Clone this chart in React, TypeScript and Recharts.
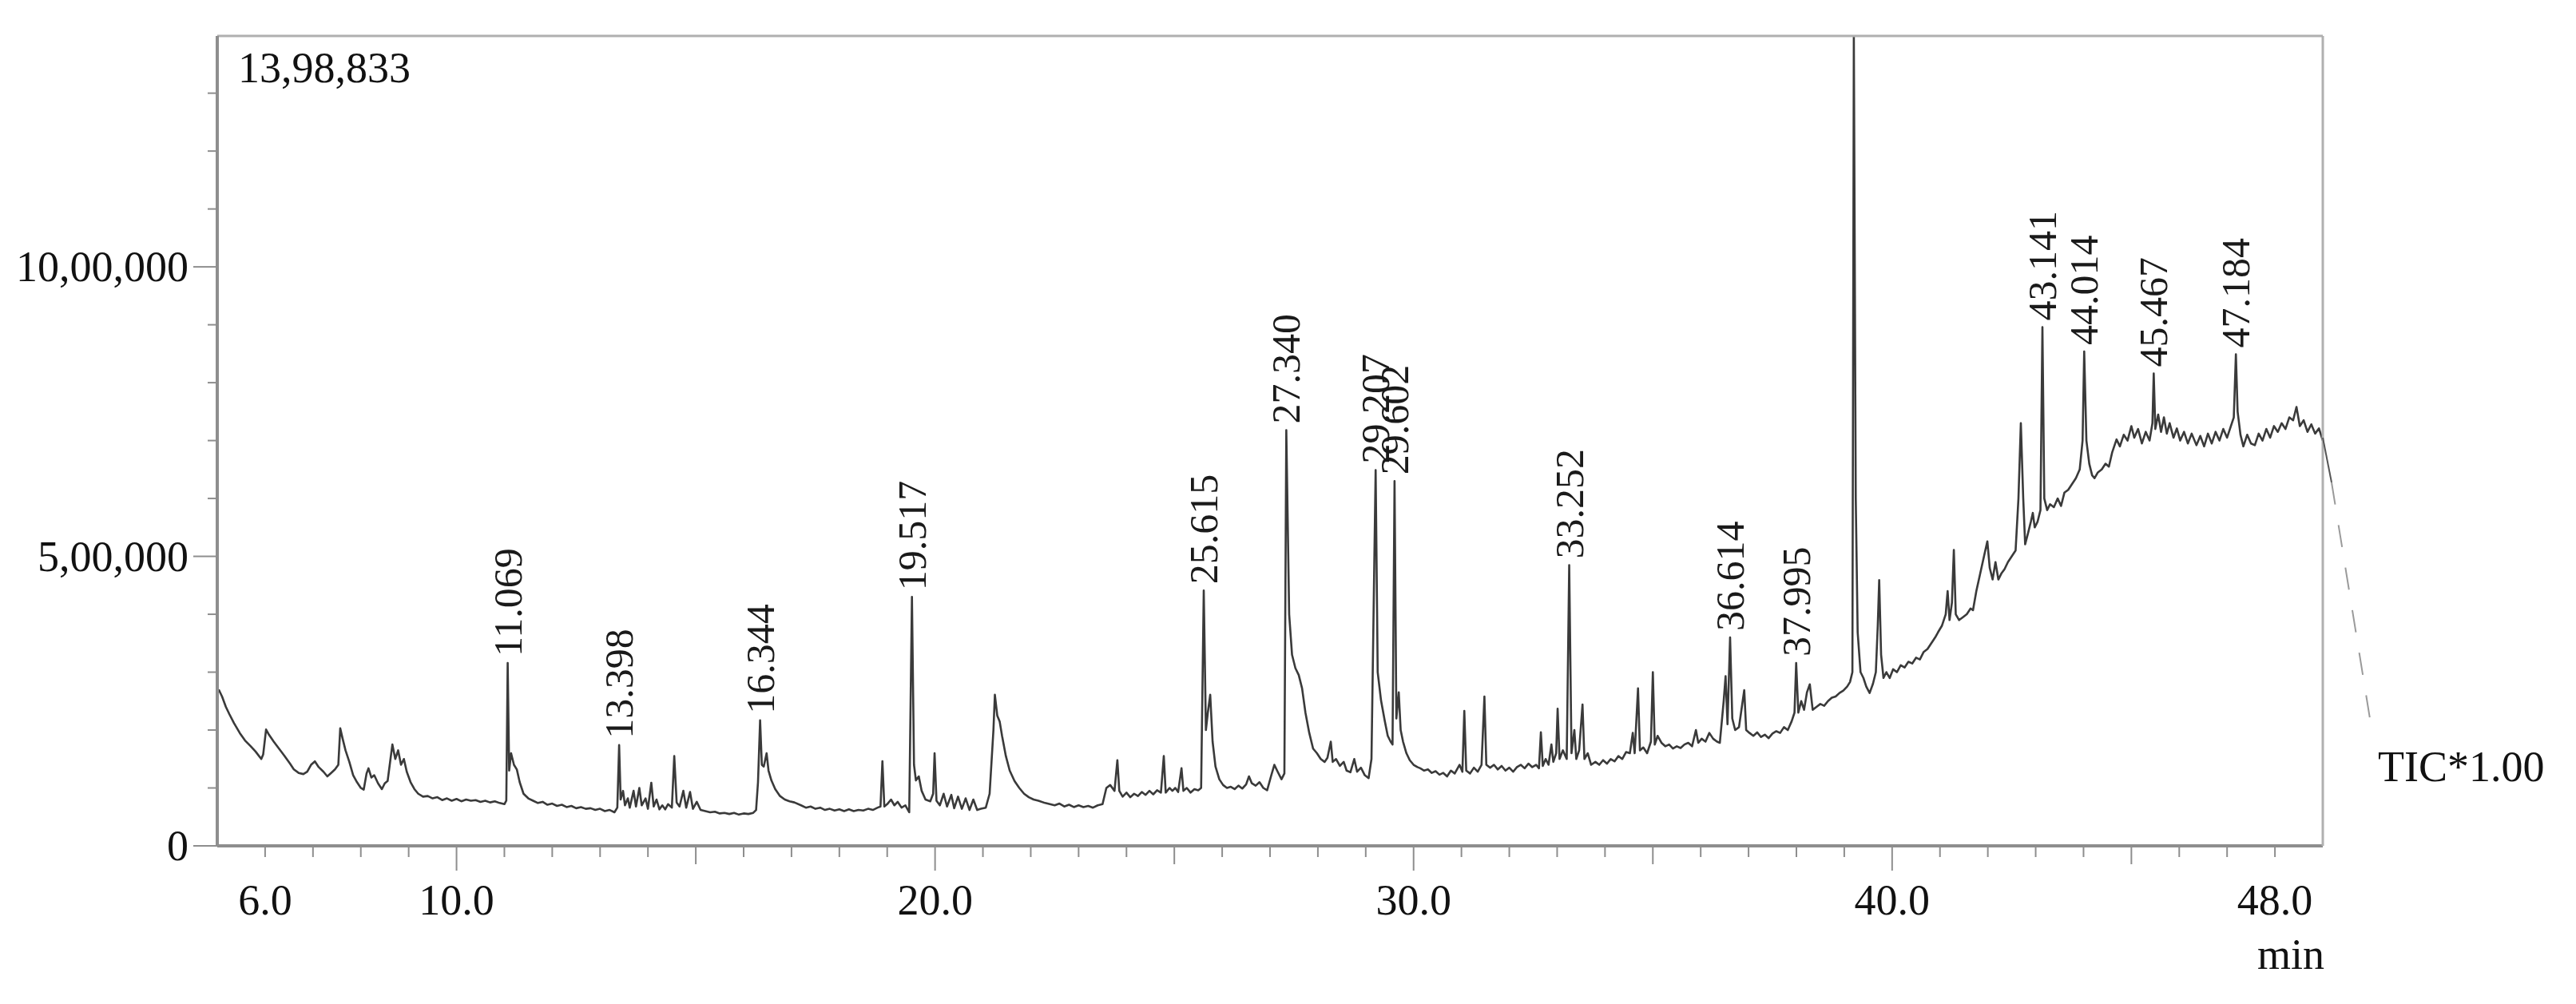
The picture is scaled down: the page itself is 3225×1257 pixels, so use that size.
import { ComposedChart, Line, Scatter, XAxis, YAxis } from 'recharts';

// retention time (min), intensity (counts)
const trace: [number, number][] = [
  [5.03, 270000], [5.10, 258000], [5.18, 240000], [5.25, 228000], [5.35, 212000], [5.47, 195000],
  [5.58, 182000], [5.70, 172000], [5.80, 163000], [5.92, 150000], [5.96, 158000], [6.02, 201000],
  [6.08, 192000], [6.18, 180000], [6.29, 168000], [6.40, 156000], [6.52, 142000], [6.60, 132000],
  [6.70, 126000], [6.80, 124000], [6.88, 128000], [6.96, 140000], [7.04, 146000], [7.12, 136000],
  [7.22, 128000], [7.30, 120000], [7.38, 126000], [7.46, 132000], [7.53, 140000], [7.57, 203000],
  [7.62, 185000], [7.68, 165000], [7.76, 145000], [7.84, 122000], [7.92, 110000], [8.00, 100000],
  [8.06, 97000], [8.12, 125000], [8.16, 134000], [8.22, 118000], [8.28, 122000], [8.36, 108000],
  [8.44, 98000], [8.50, 108000], [8.56, 112000], [8.62, 150000], [8.66, 175000], [8.72, 150000],
  [8.78, 165000], [8.84, 140000], [8.90, 150000], [8.96, 128000], [9.04, 110000], [9.12, 98000],
  [9.20, 90000], [9.30, 85000], [9.40, 86000], [9.50, 82000], [9.60, 84000], [9.70, 79000],
  [9.80, 82000], [9.90, 78000], [10.00, 81000], [10.10, 77000], [10.20, 80000], [10.30, 78000],
  [10.40, 79000], [10.50, 76000], [10.60, 78000], [10.70, 75000], [10.80, 77000], [10.90, 74000],
  [11.00, 72000], [11.04, 78000], [11.069, 316000], [11.10, 130000], [11.14, 160000], [11.20, 140000],
  [11.26, 132000], [11.32, 110000], [11.40, 90000], [11.50, 82000], [11.60, 78000], [11.70, 74000],
  [11.80, 76000], [11.90, 71000], [12.00, 73000], [12.10, 69000], [12.20, 71000], [12.30, 67000],
  [12.40, 69000], [12.50, 65000], [12.60, 67000], [12.70, 64000], [12.80, 65000], [12.90, 62000],
  [13.00, 64000], [13.10, 60000], [13.20, 62000], [13.30, 58000], [13.36, 66000], [13.398, 174000],
  [13.43, 80000], [13.48, 95000], [13.52, 70000], [13.58, 82000], [13.62, 66000], [13.70, 95000],
  [13.75, 68000], [13.82, 100000], [13.87, 70000], [13.95, 82000], [14.00, 64000], [14.07, 109000],
  [14.12, 68000], [14.18, 80000], [14.24, 63000], [14.30, 70000], [14.36, 63000], [14.42, 72000],
  [14.50, 66000], [14.55, 155000], [14.60, 75000], [14.66, 68000], [14.74, 95000], [14.80, 66000],
  [14.88, 93000], [14.94, 64000], [15.02, 76000], [15.10, 62000], [15.20, 60000], [15.30, 58000],
  [15.40, 59000], [15.50, 56000], [15.60, 57000], [15.70, 55000], [15.80, 57000], [15.90, 54000],
  [16.00, 56000], [16.10, 55000], [16.20, 57000], [16.26, 62000], [16.30, 110000], [16.344, 217000],
  [16.38, 140000], [16.42, 137000], [16.48, 160000], [16.52, 130000], [16.58, 113000], [16.66, 98000],
  [16.76, 86000], [16.86, 80000], [16.96, 77000], [17.06, 75000], [17.20, 70000], [17.30, 66000],
  [17.40, 68000], [17.50, 64000], [17.60, 66000], [17.70, 62000], [17.80, 64000], [17.90, 61000],
  [18.00, 63000], [18.10, 60000], [18.20, 63000], [18.30, 60000], [18.40, 62000], [18.50, 61000],
  [18.60, 64000], [18.70, 62000], [18.80, 66000], [18.86, 68000], [18.90, 146000], [18.94, 68000],
  [19.00, 72000], [19.08, 80000], [19.15, 70000], [19.22, 76000], [19.30, 66000], [19.38, 70000],
  [19.46, 58000], [19.517, 430000], [19.56, 140000], [19.60, 113000], [19.66, 120000], [19.72, 95000],
  [19.80, 80000], [19.90, 77000], [19.96, 90000], [19.99, 160000], [20.03, 78000], [20.10, 70000],
  [20.18, 90000], [20.25, 68000], [20.34, 88000], [20.40, 65000], [20.48, 85000], [20.56, 64000],
  [20.64, 82000], [20.72, 62000], [20.80, 80000], [20.88, 62000], [20.96, 64000], [21.06, 66000],
  [21.14, 90000], [21.22, 200000], [21.25, 261000], [21.30, 225000], [21.35, 215000], [21.40, 190000],
  [21.48, 155000], [21.56, 130000], [21.66, 112000], [21.76, 100000], [21.86, 90000], [21.96, 84000],
  [22.06, 80000], [22.16, 78000], [22.30, 74000], [22.40, 72000], [22.50, 70000], [22.60, 73000],
  [22.70, 68000], [22.80, 71000], [22.90, 67000], [23.00, 70000], [23.10, 67000], [23.20, 69000],
  [23.30, 66000], [23.40, 70000], [23.50, 72000], [23.58, 100000], [23.66, 105000], [23.75, 95000],
  [23.81, 148000], [23.85, 95000], [23.92, 85000], [24.00, 92000], [24.08, 84000], [24.16, 90000],
  [24.24, 86000], [24.32, 93000], [24.40, 88000], [24.48, 95000], [24.56, 89000], [24.64, 96000],
  [24.72, 92000], [24.78, 155000], [24.82, 92000], [24.90, 100000], [24.96, 95000], [25.02, 100000],
  [25.08, 93000], [25.15, 134000], [25.19, 95000], [25.26, 100000], [25.34, 92000], [25.42, 98000],
  [25.50, 96000], [25.56, 100000], [25.615, 441000], [25.66, 200000], [25.70, 230000], [25.75, 261000],
  [25.80, 180000], [25.86, 137000], [25.94, 115000], [26.02, 105000], [26.10, 100000], [26.18, 102000],
  [26.26, 98000], [26.34, 104000], [26.42, 99000], [26.50, 106000], [26.56, 120000], [26.62, 108000],
  [26.70, 104000], [26.78, 110000], [26.86, 100000], [26.94, 96000], [27.02, 120000], [27.09, 140000],
  [27.16, 128000], [27.24, 115000], [27.30, 125000], [27.340, 718000], [27.40, 400000], [27.46, 330000],
  [27.53, 307000], [27.60, 295000], [27.67, 272000], [27.74, 230000], [27.82, 195000], [27.90, 168000],
  [27.98, 160000], [28.06, 150000], [28.14, 145000], [28.20, 152000], [28.27, 180000], [28.31, 145000],
  [28.38, 150000], [28.46, 138000], [28.54, 145000], [28.60, 130000], [28.68, 127000], [28.76, 150000],
  [28.82, 128000], [28.90, 135000], [28.98, 122000], [29.06, 117000], [29.12, 150000], [29.207, 649000],
  [29.25, 300000], [29.32, 251000], [29.40, 215000], [29.46, 190000], [29.52, 180000], [29.56, 175000],
  [29.602, 630000], [29.64, 220000], [29.69, 265000], [29.73, 200000], [29.78, 180000], [29.85, 160000],
  [29.92, 148000], [30.00, 140000], [30.08, 136000], [30.14, 134000], [30.22, 130000], [30.30, 132000],
  [30.38, 126000], [30.46, 129000], [30.54, 123000], [30.62, 126000], [30.70, 120000], [30.78, 130000],
  [30.86, 125000], [30.96, 140000], [31.02, 128000], [31.06, 233000], [31.10, 130000], [31.18, 125000],
  [31.26, 135000], [31.34, 128000], [31.42, 140000], [31.48, 258000], [31.52, 140000], [31.60, 135000],
  [31.68, 140000], [31.76, 132000], [31.84, 138000], [31.92, 130000], [32.00, 135000], [32.08, 128000],
  [32.16, 136000], [32.24, 140000], [32.32, 134000], [32.40, 142000], [32.48, 136000], [32.56, 140000],
  [32.62, 134000], [32.66, 196000], [32.70, 138000], [32.76, 150000], [32.82, 140000], [32.88, 175000],
  [32.92, 145000], [32.98, 160000], [33.01, 237000], [33.05, 150000], [33.12, 165000], [33.20, 150000],
  [33.252, 485000], [33.30, 160000], [33.36, 200000], [33.40, 150000], [33.46, 165000], [33.53, 244000],
  [33.57, 150000], [33.64, 160000], [33.71, 140000], [33.80, 145000], [33.88, 140000], [33.96, 148000],
  [34.04, 142000], [34.12, 150000], [34.20, 146000], [34.28, 155000], [34.36, 150000], [34.44, 162000],
  [34.52, 160000], [34.58, 195000], [34.62, 160000], [34.69, 272000], [34.73, 165000], [34.80, 170000],
  [34.88, 160000], [34.96, 180000], [35.00, 300000], [35.04, 175000], [35.10, 190000], [35.18, 178000],
  [35.26, 172000], [35.34, 175000], [35.42, 168000], [35.50, 172000], [35.58, 169000], [35.66, 175000],
  [35.74, 178000], [35.82, 172000], [35.90, 200000], [35.95, 178000], [36.02, 185000], [36.10, 180000],
  [36.18, 195000], [36.26, 185000], [36.34, 180000], [36.40, 178000], [36.48, 250000], [36.52, 293000],
  [36.56, 210000], [36.614, 360000], [36.66, 220000], [36.72, 200000], [36.80, 205000], [36.86, 240000],
  [36.91, 269000], [36.95, 200000], [37.02, 195000], [37.10, 190000], [37.18, 196000], [37.26, 188000],
  [37.34, 192000], [37.42, 186000], [37.50, 194000], [37.58, 198000], [37.66, 195000], [37.74, 205000],
  [37.82, 200000], [37.90, 215000], [37.96, 230000], [37.995, 316000], [38.04, 230000], [38.10, 250000],
  [38.16, 235000], [38.22, 265000], [38.28, 279000], [38.34, 235000], [38.42, 240000], [38.50, 245000],
  [38.58, 242000], [38.66, 250000], [38.74, 256000], [38.82, 258000], [38.90, 264000], [38.98, 268000],
  [39.06, 275000], [39.12, 283000], [39.17, 300000], [39.20, 1398833], [39.24, 600000], [39.28, 369000],
  [39.34, 300000], [39.40, 290000], [39.46, 275000], [39.53, 264000], [39.60, 280000], [39.66, 300000],
  [39.70, 380000], [39.73, 459000], [39.77, 330000], [39.82, 290000], [39.88, 300000], [39.95, 290000],
  [40.02, 305000], [40.10, 300000], [40.18, 312000], [40.26, 308000], [40.34, 318000], [40.42, 315000],
  [40.50, 325000], [40.58, 322000], [40.66, 335000], [40.74, 340000], [40.82, 350000], [40.90, 360000],
  [40.96, 369000], [41.04, 380000], [41.12, 400000], [41.16, 440000], [41.20, 390000], [41.25, 420000],
  [41.29, 511000], [41.33, 400000], [41.40, 390000], [41.48, 395000], [41.56, 400000], [41.64, 410000],
  [41.69, 407000], [41.76, 440000], [41.84, 470000], [41.92, 500000], [41.99, 526000], [42.04, 480000],
  [42.10, 460000], [42.16, 490000], [42.22, 460000], [42.28, 470000], [42.35, 478000], [42.42, 490000],
  [42.50, 500000], [42.58, 510000], [42.64, 600000], [42.69, 730000], [42.74, 600000], [42.78, 521000],
  [42.84, 540000], [42.90, 560000], [42.94, 575000], [42.98, 550000], [43.04, 560000], [43.10, 580000],
  [43.141, 896000], [43.18, 600000], [43.24, 580000], [43.30, 590000], [43.38, 585000], [43.46, 600000],
  [43.53, 587000], [43.60, 610000], [43.68, 615000], [43.76, 625000], [43.84, 635000], [43.92, 650000],
  [43.98, 700000], [44.014, 854000], [44.06, 700000], [44.12, 660000], [44.18, 640000], [44.23, 635000],
  [44.30, 645000], [44.38, 650000], [44.46, 660000], [44.53, 655000], [44.60, 680000], [44.69, 702000],
  [44.76, 690000], [44.84, 710000], [44.92, 700000], [45.00, 725000], [45.06, 705000], [45.14, 720000],
  [45.22, 695000], [45.30, 715000], [45.38, 700000], [45.44, 730000], [45.467, 816000], [45.50, 720000],
  [45.56, 745000], [45.62, 715000], [45.68, 740000], [45.74, 712000], [45.80, 730000], [45.88, 705000],
  [45.95, 721000], [46.02, 700000], [46.10, 715000], [46.18, 695000], [46.26, 712000], [46.36, 692000],
  [46.44, 708000], [46.52, 690000], [46.60, 712000], [46.68, 695000], [46.76, 715000], [46.84, 700000],
  [46.92, 720000], [47.00, 705000], [47.08, 725000], [47.14, 740000], [47.184, 849000], [47.22, 750000],
  [47.28, 710000], [47.34, 690000], [47.42, 710000], [47.50, 695000], [47.58, 692000], [47.66, 712000],
  [47.74, 700000], [47.82, 720000], [47.90, 705000], [47.98, 725000], [48.06, 715000], [48.14, 730000],
  [48.22, 720000], [48.30, 740000], [48.38, 735000], [48.45, 758000], [48.52, 725000], [48.60, 735000],
  [48.68, 715000], [48.76, 728000], [48.84, 712000], [48.92, 721000], [49.00, 700000],
];

// labelled peaks (retention times printed above the apex)
const peakLabels = [
  '11.069', '13.398', '16.344', '19.517', '25.615', '27.340', '29.207', '29.602',
  '33.252', '36.614', '37.995', '43.141', '44.014', '45.467', '47.184',
];

const xTicks = [
  6, 7, 8, 9, 10, 11, 12, 13, 14, 15, 16, 17, 18, 19, 20, 21, 22, 23, 24, 25, 26, 27,
  28, 29, 30, 31, 32, 33, 34, 35, 36, 37, 38, 39, 40, 41, 42, 43, 44, 45, 46, 47, 48,
];
const xTickLabels: Record<number, string> = { 6: '6.0', 10: '10.0', 20: '20.0', 30: '30.0', 40: '40.0', 48: '48.0' };

const yTicks = [0, 100000, 200000, 300000, 400000, 500000, 600000, 700000, 800000, 900000, 1000000, 1100000, 1200000, 1300000];
const yTickLabels: Record<number, string> = { 0: '0', 500000: '5,00,000', 1000000: '10,00,000' };

const yMax = 1398833;

const FONT = '"Liberation Serif", "DejaVu Serif", serif';
const AXIS = '#8e8e8e';

const chartData = trace.map(([t, v]) => ({ t, v }));
const peakData = peakLabels.map((label) => {
  const t = parseFloat(label);
  const hit = trace.find(([tt]) => tt === t);
  return { t, v: hit ? hit[1] : 0, label };
});

function XTick(props: any) {
  const { x, y, payload } = props;
  const val = payload.value as number;
  const len = val % 10 === 0 ? 31 : val % 5 === 0 ? 23 : 14;
  const label = xTickLabels[val];
  return (
    <g>
      <line x1={x} x2={x} y1={y} y2={y + len} stroke={AXIS} strokeWidth={2} />
      {label && (
        <text x={x} y={y + 86} textAnchor="middle" fontSize={54} fontFamily={FONT} fill="#111">
          {label}
        </text>
      )}
    </g>
  );
}

function YTick(props: any) {
  const { x, y, payload } = props;
  const label = yTickLabels[payload.value as number];
  const len = label ? 30 : 12;
  return (
    <g>
      <line x1={x - len} x2={x} y1={y} y2={y} stroke={AXIS} strokeWidth={2} />
      {label && (
        <text x={x - 36} y={y} dy="0.34em" textAnchor="end" fontSize={54} fontFamily={FONT} fill="#111">
          {label}
        </text>
      )}
    </g>
  );
}

function PeakLabel(props: any) {
  const { cx, cy } = props;
  const label = props.payload?.label ?? props.label;
  if (cx == null || cy == null) return null;
  return (
    <text
      transform={`translate(${cx},${cy - 8}) rotate(-90)`}
      dy="0.34em"
      fontSize={50}
      fontFamily={FONT}
      fill="#1a1a1a"
    >
      {label}
    </text>
  );
}

export default function App() {
  return (
    <div style={{ position: 'absolute', left: 0, top: 0, width: 3225, height: 1257, background: '#fff' }}>
      <ComposedChart
        width={3225}
        height={1257}
        data={chartData}
        margin={{ top: 43, right: 315, bottom: 98, left: 172 }}
      >
        <XAxis
          dataKey="t"
          type="number"
          domain={[5, 49]}
          ticks={xTicks}
          allowDataOverflow
          height={100}
          tickSize={0}
          tickMargin={0}
          tickLine={false}
          axisLine={{ stroke: AXIS, strokeWidth: 4 }}
          tick={<XTick />}
          interval={0}
        />
        <XAxis
          xAxisId="top"
          orientation="top"
          type="number"
          domain={[5, 49]}
          height={2}
          tick={false}
          tickLine={false}
          axisLine={{ stroke: '#b0b0b0', strokeWidth: 3 }}
        />
        <YAxis
          dataKey="v"
          type="number"
          domain={[0, yMax]}
          ticks={yTicks}
          allowDataOverflow
          width={100}
          tickSize={0}
          tickMargin={0}
          tickLine={false}
          axisLine={{ stroke: AXIS, strokeWidth: 4 }}
          tick={<YTick />}
          interval={0}
        />
        <YAxis
          yAxisId="right"
          orientation="right"
          type="number"
          domain={[0, 1]}
          width={2}
          tick={false}
          tickLine={false}
          axisLine={{ stroke: '#b0b0b0', strokeWidth: 3 }}
        />
        <Line
          dataKey="v"
          type="linear"
          stroke="#3a3a3a"
          strokeWidth={2.6}
          strokeLinejoin="round"
          dot={false}
          activeDot={false}
          isAnimationActive={false}
        />
        <Scatter data={peakData} dataKey="v" shape={PeakLabel} isAnimationActive={false} />
      </ComposedChart>
      <svg
        width={3225}
        height={1257}
        style={{ position: 'absolute', left: 0, top: 0, pointerEvents: 'none' }}
      >
        <text x={298} y={103} fontSize={54} fontFamily={FONT} fill="#111">13,98,833</text>
        <text x={2910} y={1213} textAnchor="end" fontSize={54} fontFamily={FONT} fill="#111">min</text>
        <text x={2977} y={978} fontSize={54} fontFamily={FONT} fill="#111">TIC*1.00</text>
        <line x1={2908} y1={548} x2={2919} y2={604} stroke="#555" strokeWidth={2} />
        <line x1={2919} y1={604} x2={2969} y2={912} stroke="#9a9a9a" strokeWidth={2} strokeDasharray="28 26" />
      </svg>
    </div>
  );
}
